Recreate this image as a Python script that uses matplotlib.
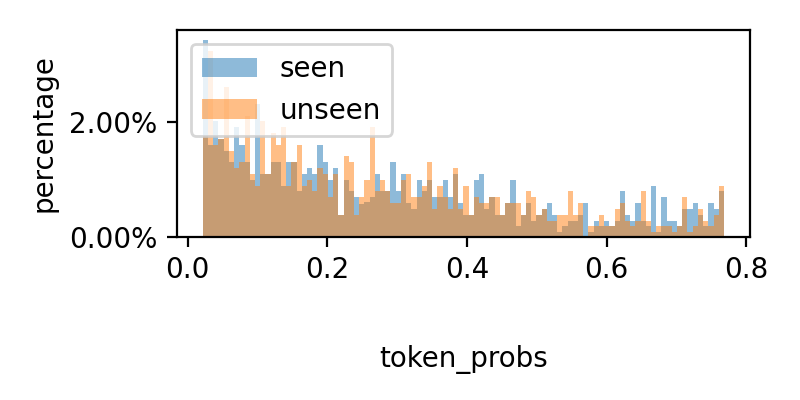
import numpy as np
import matplotlib
matplotlib.use("Agg")
import matplotlib.pyplot as plt
from matplotlib.ticker import PercentFormatter

# bin range of token_probs
x_min = 0.0219
x_max = 0.768
n_bins = 100

# percentage per bin
seen = [3.42, 1.59, 2.02, 1.70, 1.49, 1.30, 1.90, 1.59, 1.30, 0.99,
        2.31, 1.09, 1.09, 1.30, 1.30, 0.88, 1.30, 1.30, 0.80, 1.09,
        1.20, 1.09, 1.59, 1.30, 0.99, 1.20, 0.38, 0.99, 0.80, 0.70,
        0.58, 0.60, 0.70, 1.09, 0.80, 0.80, 1.30, 0.80, 1.09, 0.59,
        0.48, 0.99, 0.80, 0.99, 0.70, 0.70, 0.99, 0.70, 1.09, 0.59,
        0.38, 0.38, 0.99, 1.09, 0.48, 0.70, 0.38, 0.38, 0.59, 0.99,
        0.19, 0.38, 0.59, 0.27, 0.38, 0.48, 0.59, 0.38, 0.09, 0.19,
        0.27, 0.27, 0.38, 0.59, 0.09, 0.27, 0.19, 0.27, 0.19, 0.27,
        0.80, 0.38, 0.27, 0.59, 0.27, 0.19, 0.88, 0.09, 0.69, 0.27,
        0.27, 0.19, 0.48, 0.48, 0.59, 0.38, 0.19, 0.59, 0.48, 0.80]

unseen = [1.75, 3.22, 1.59, 1.70, 2.61, 1.49, 1.20, 1.30, 2.10, 1.09,
          0.88, 2.02, 1.09, 1.80, 1.59, 1.90, 0.88, 1.30, 1.59, 0.88,
          0.99, 0.80, 1.20, 1.09, 0.70, 1.09, 0.38, 1.40, 1.30, 0.38,
          0.70, 0.99, 1.91, 0.80, 0.99, 0.80, 0.59, 0.59, 0.99, 1.09,
          0.70, 0.70, 0.88, 1.30, 0.48, 0.88, 0.70, 0.48, 1.20, 0.48,
          0.88, 0.38, 0.70, 0.59, 0.59, 0.70, 0.70, 0.38, 0.59, 0.59,
          0.59, 0.38, 0.80, 0.70, 0.38, 0.48, 0.27, 0.27, 0.38, 0.38,
          0.80, 0.38, 0.59, 0.00, 0.19, 0.19, 0.38, 0.19, 0.19, 0.48,
          0.59, 0.27, 0.19, 0.27, 0.80, 0.27, 0.09, 0.19, 0.19, 0.19,
          0.09, 0.19, 0.69, 0.09, 0.19, 0.48, 0.27, 0.19, 0.38, 0.88]

edges = np.linspace(x_min, x_max, n_bins + 1)
centers = (edges[:-1] + edges[1:]) / 2

fig = plt.figure(figsize=(4, 2), dpi=200)
ax = fig.add_axes([0.221, 0.4075, 0.9375 - 0.221, 0.925 - 0.4075])

ax.hist(centers, bins=edges, weights=seen, alpha=0.5, label="seen")
ax.hist(centers, bins=edges, weights=unseen, alpha=0.5, label="unseen")

ax.yaxis.set_major_formatter(PercentFormatter(xmax=100, decimals=2))
ax.set_ylabel("percentage")
ax.set_xlabel("token_probs")
ax.xaxis.set_label_coords(0.5, -0.52)
ax.legend(loc="upper left")

fig.savefig("out.png", dpi=200)
